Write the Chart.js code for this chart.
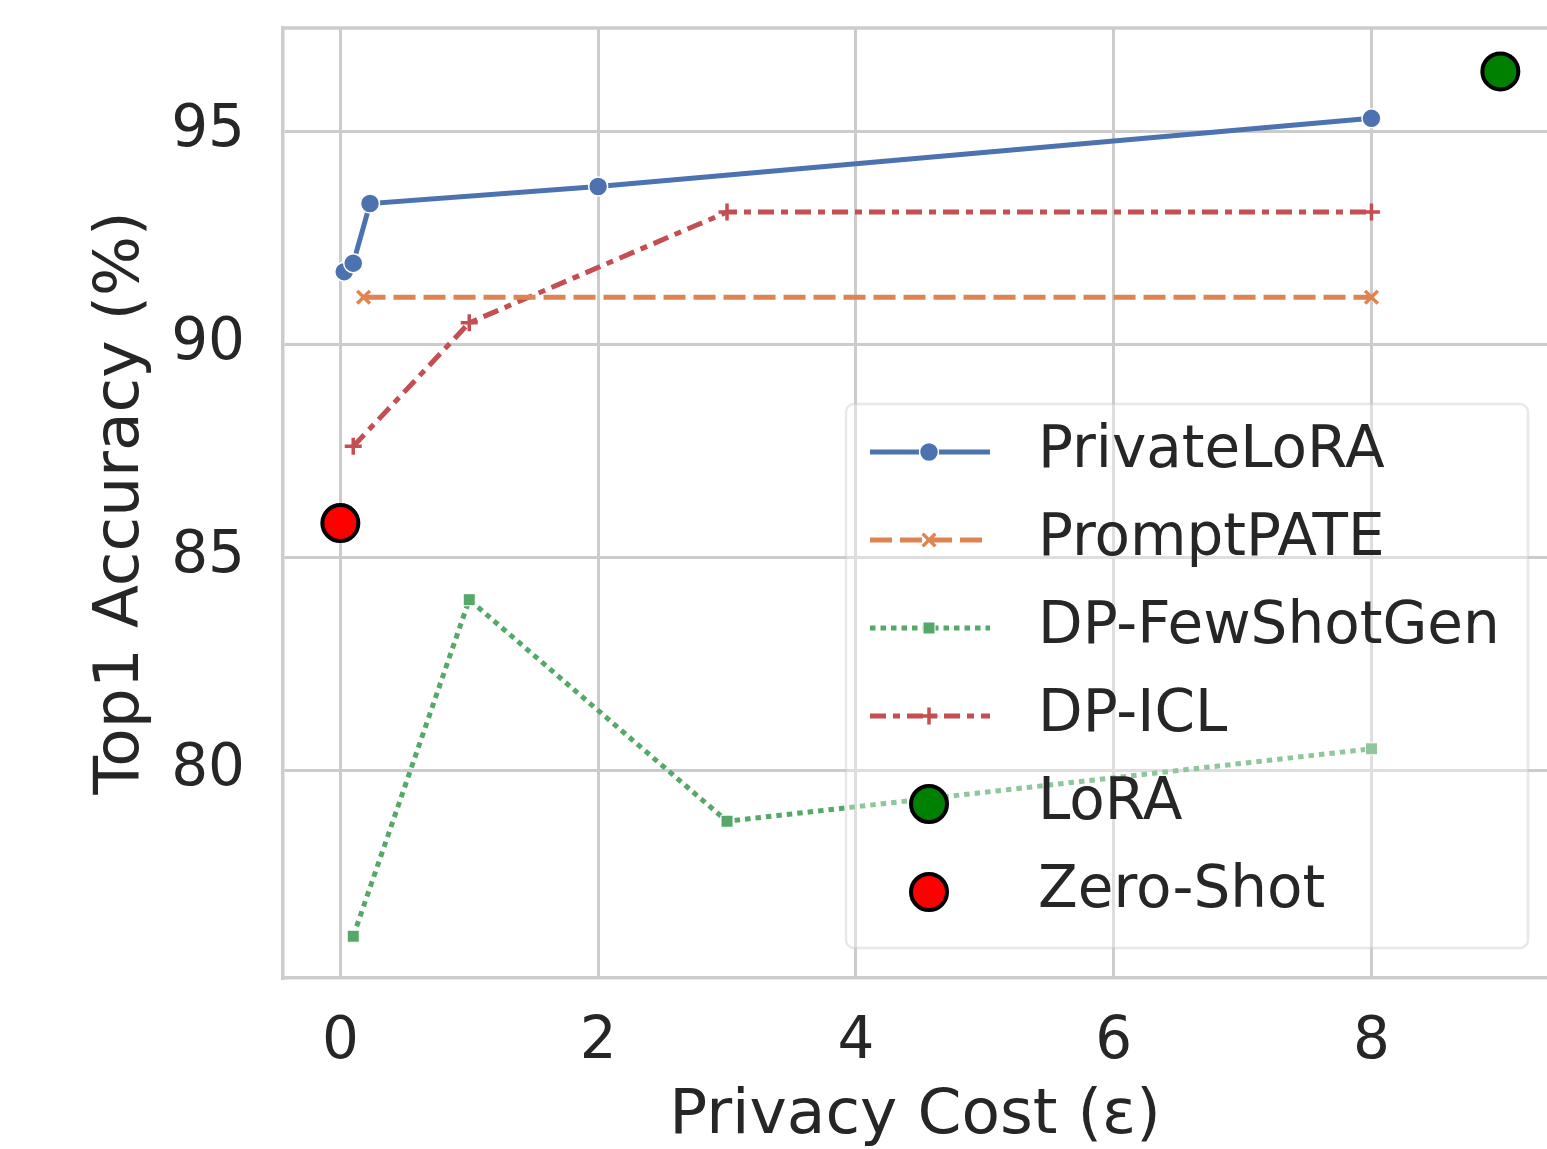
<!DOCTYPE html>
<html>
<head>
<meta charset="utf-8">
<script src="https://cdn.jsdelivr.net/npm/chart.js@4.4.1/dist/chart.umd.min.js"></script>
<style>
  html, body { margin: 0; padding: 0; background: #fff; }
</style>
</head>
<body>
<canvas id="chart" width="1547" height="1149"></canvas>
<script>
// tick labels
const xTicks = [0, 2, 4, 6, 8];
const yTicks = [80, 85, 90, 95];

// series (privacy cost eps, top1 accuracy %)
const privateLoraEps = [0.03, 0.1, 0.23, 2, 8];
const privateLoraAcc = [91.7, 91.9, 93.3, 93.7, 95.3];
const promptPateEps = [0.18, 8];
const promptPateAcc = [91.1, 91.1];
const fewShotGenEps = [0.1, 1, 3, 8];
const fewShotGenAcc = [76.1, 84.0, 78.8, 80.5];
const dpIclEps = [0.1, 1, 3, 8];
const dpIclAcc = [87.6, 90.5, 93.1, 93.1];
const loraEps = [9];
const loraAcc = [96.4];
const zeroShotEps = [0];
const zeroShotAcc = [85.8];

const FONT = "'DejaVu Sans', sans-serif";
const TEXT = "#262626";
const GRID = "#cccccc";

function pts(xs, ys) {
  return xs.map((x, i) => ({ x: x, y: ys[i] }));
}

const datasets = [
  {
    label: "PrivateLoRA", data: pts(privateLoraEps, privateLoraAcc),
    borderColor: "#4C72B0", backgroundColor: "#4C72B0", borderWidth: 5,
    pointStyle: "circle", pointRadius: 9.5, pointBorderColor: "#ffffff", pointBorderWidth: 1.5,
    pointBackgroundColor: "#4C72B0", borderDash: []
  },
  {
    label: "PromptPATE", data: pts(promptPateEps, promptPateAcc),
    borderColor: "#DD8452", backgroundColor: "#DD8452", borderWidth: 5,
    pointStyle: "crossRot", pointRadius: 9, pointBorderColor: "#DD8452", pointBorderWidth: 3.5,
    borderDash: [22, 8]
  },
  {
    label: "DP-FewShotGen", data: pts(fewShotGenEps, fewShotGenAcc),
    borderColor: "#55A868", backgroundColor: "#55A868", borderWidth: 5,
    pointStyle: "rect", pointRadius: 8.5, pointBorderColor: "#ffffff", pointBorderWidth: 1,
    pointBackgroundColor: "#55A868", borderDash: [5.5, 5]
  },
  {
    label: "DP-ICL", data: pts(dpIclEps, dpIclAcc),
    borderColor: "#C44E52", backgroundColor: "#C44E52", borderWidth: 5,
    pointStyle: "cross", pointRadius: 8.5, pointBorderColor: "#C44E52", pointBorderWidth: 3.5,
    borderDash: [16, 7, 7, 7]
  },
  {
    label: "LoRA", data: pts(loraEps, loraAcc), showLine: false,
    pointStyle: "circle", pointRadius: 18, pointBackgroundColor: "#008000",
    pointBorderColor: "#000000", pointBorderWidth: 4, borderColor: "#000000", borderDash: []
  },
  {
    label: "Zero-Shot", data: pts(zeroShotEps, zeroShotAcc), showLine: false,
    pointStyle: "circle", pointRadius: 18, pointBackgroundColor: "#ff0000",
    pointBorderColor: "#000000", pointBorderWidth: 4, borderColor: "#000000", borderDash: []
  }
];

// top spine (Chart.js only draws the axis borders)
const topSpine = {
  id: "topSpine",
  beforeDatasetsDraw(chart) {
    const { ctx, chartArea } = chart;
    ctx.save();
    ctx.strokeStyle = GRID;
    ctx.lineWidth = 3.5;
    ctx.beginPath();
    ctx.moveTo(chartArea.left - 1.75, chartArea.top);
    ctx.lineTo(chartArea.right, chartArea.top);
    ctx.stroke();
    ctx.restore();
  }
};

// legend inside the plot, semi transparent frame like matplotlib
const boxLegend = {
  id: "boxLegend",
  afterDraw(chart) {
    const ctx = chart.ctx;
    const x0 = 846, y0 = 404, w = 682, h = 544, r = 8;
    ctx.save();
    ctx.beginPath();
    ctx.roundRect(x0, y0, w, h, r);
    ctx.fillStyle = "rgba(255,255,255,0.35)";
    ctx.fill();
    ctx.strokeStyle = "rgba(204,204,204,0.45)";
    ctx.lineWidth = 2.5;
    ctx.stroke();

    chart.data.datasets.forEach((ds, i) => {
      const cy = 452 + i * 88;
      if (ds.showLine !== false) {
        ctx.beginPath();
        ctx.setLineDash(ds.borderDash || []);
        ctx.lineDashOffset = 0;
        ctx.strokeStyle = ds.borderColor;
        ctx.lineWidth = ds.borderWidth;
        ctx.moveTo(870, cy);
        ctx.lineTo(990, cy);
        ctx.stroke();
      }
      ctx.setLineDash([]);
      ctx.fillStyle = ds.pointBackgroundColor || ds.borderColor;
      ctx.strokeStyle = ds.pointBorderColor;
      ctx.lineWidth = ds.pointBorderWidth;
      Chart.helpers.drawPoint(ctx, {
        pointStyle: ds.pointStyle, radius: ds.pointRadius, rotation: 0,
        borderWidth: ds.pointBorderWidth
      }, 929, cy);

      ctx.fillStyle = TEXT;
      ctx.font = "58px " + FONT;
      ctx.textAlign = "left";
      ctx.textBaseline = "middle";
      ctx.fillText(ds.label, 1038, cy);
    });
    ctx.restore();
  }
};

new Chart(document.getElementById("chart"), {
  type: "line",
  data: { datasets: datasets },
  options: {
    responsive: false,
    animation: false,
    devicePixelRatio: 1,
    layout: { autoPadding: false, padding: { top: 28, left: 0, right: 0, bottom: 0 } },
    plugins: { legend: { display: false }, tooltip: { enabled: false } },
    elements: { line: { tension: 0 } },
    scales: {
      x: {
        type: "linear",
        min: -0.445,
        max: 9.362,
        afterBuildTicks: s => { s.ticks = xTicks.map(v => ({ value: v })); },
        afterFit: s => { s.height = 171; s.paddingLeft = 0; s.paddingRight = 0; },
        grid: { color: GRID, lineWidth: 3, drawTicks: false },
        border: { display: true, color: GRID, width: 3.5 },
        ticks: { color: TEXT, font: { family: FONT, size: 58 }, padding: 30, maxRotation: 0 },
        title: {
          display: true, text: "Privacy Cost (ε)", color: TEXT,
          font: { family: FONT, size: 63 }, padding: { top: 0, bottom: -5 }
        }
      },
      y: {
        min: 75.12,
        max: 97.42,
        afterBuildTicks: s => { s.ticks = yTicks.map(v => ({ value: v })); },
        afterFit: s => { s.width = 283; s.paddingTop = 0; s.paddingBottom = 0; },
        grid: { color: GRID, lineWidth: 3, drawTicks: false },
        border: { display: true, color: GRID, width: 3.5 },
        ticks: { color: TEXT, font: { family: FONT, size: 58 }, padding: 38 },
        title: {
          display: true, text: "Top1 Accuracy (%)", color: TEXT,
          font: { family: FONT, size: 63 }, padding: { top: 84, bottom: 0 }
        }
      }
    }
  },
  plugins: [topSpine, boxLegend]
});
</script>
</body>
</html>
